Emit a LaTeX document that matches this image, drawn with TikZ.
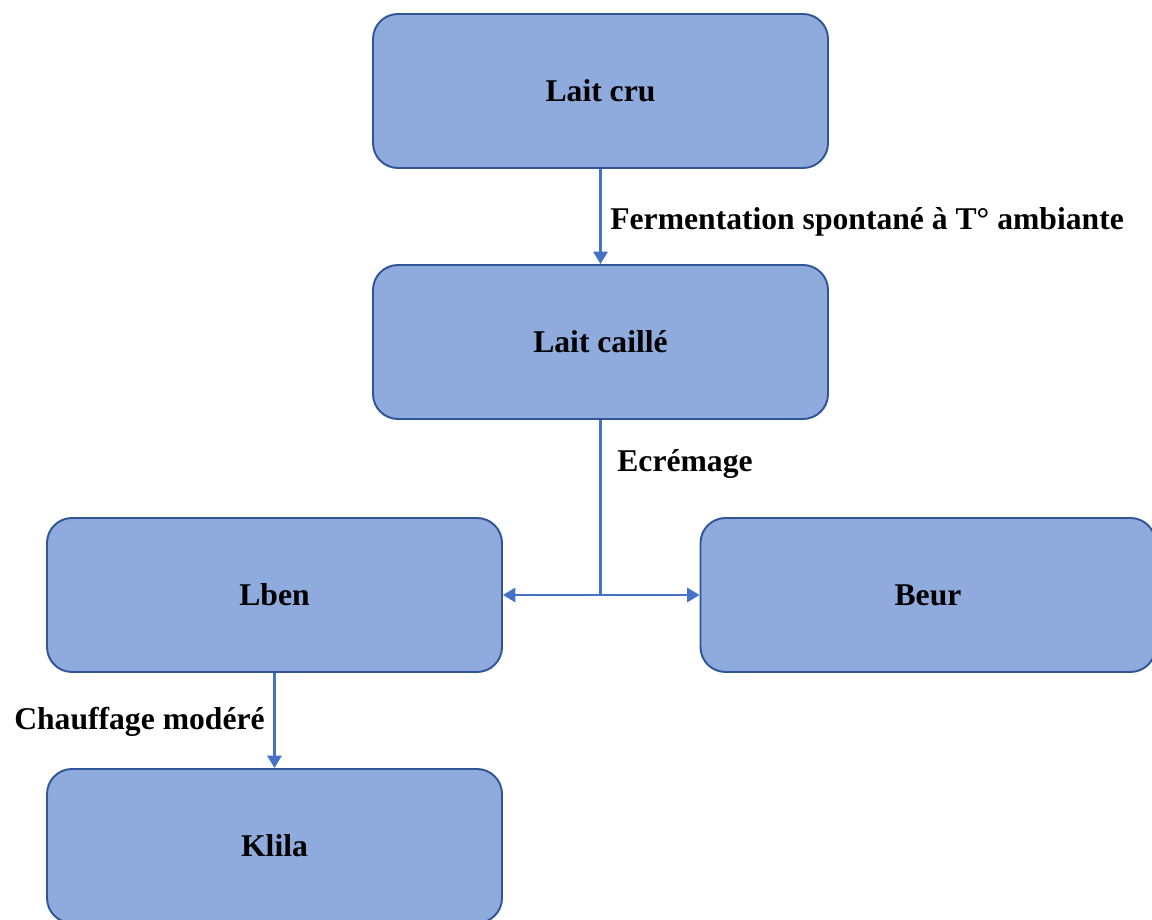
\documentclass[tikz,border=0pt]{standalone}
\usepackage{fontspec}
\setmainfont{Liberation Serif}
\usepackage{tikz}
\usetikzlibrary{positioning,arrows.meta}
\definecolor{boxfill}{RGB}{143,170,220}
\definecolor{boxline}{RGB}{47,85,151}
\definecolor{flow}{RGB}{68,114,196}

\begin{document}
\begin{tikzpicture}[
    etape/.style={rectangle,rounded corners=0.5cm,draw=boxline,line width=1.1pt,fill=boxfill,
        minimum width=9.1cm,minimum height=3.08cm,font=\fontsize{18}{22}\selectfont\bfseries},
    fleche/.style={draw=flow,line width=1.5pt,-{Triangle[width=8pt,length=7pt]}},
    legende/.style={inner sep=0pt,font=\fontsize{18}{22}\selectfont\bfseries}]

\useasboundingbox (0,0) rectangle (23.04,-18.4);

% Etapes
\node[etape] (cru) at (12.01,-1.82) {Lait cru};
\node[etape] (caille) at (12.01,-6.84) {Lait caillé};
\node[etape] (lben) at (5.49,-11.9) {Lben};
\node[etape] (beur) at (18.56,-11.9) {Beur};
\node[etape] (klila) at (5.49,-16.92) {Klila};

% Fleches
\coordinate (split) at (caille.south |- lben.east);
\draw[fleche] (cru) -- (caille);
\draw[draw=flow,line width=1.5pt] (caille) -- (split);
\draw[fleche] (split) -- (lben.east);
\draw[fleche] (split) -- (beur.west);
\draw[fleche] (lben) -- (klila);

% Legendes
\node[legende,anchor=west] (ferm) at (12.2,-4.43) {Fermentation spontané à T° ambiante};
\node[legende,anchor=west] (ecre) at (12.34,-9.29) {Ecrémage};
\node[legende,anchor=east] (chauf) at (5.30,-14.43) {Chauffage modéré};

\end{tikzpicture}
\end{document}
